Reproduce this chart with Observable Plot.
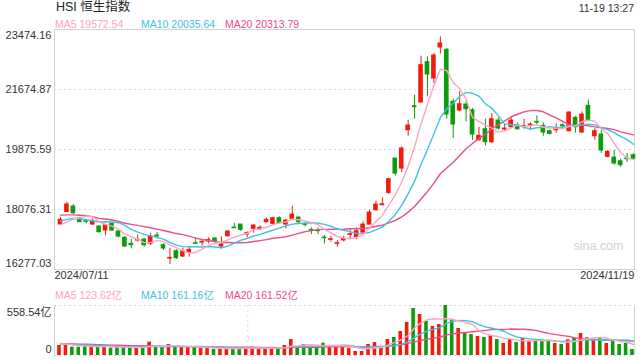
<!DOCTYPE html>
<html><head><meta charset="utf-8">
<script src="https://cdn.jsdelivr.net/npm/d3@7"></script>
<script src="https://cdn.jsdelivr.net/npm/@observablehq/plot@0.6"></script>
<style>
body{margin:0;background:#fff;}
#wrap{position:relative;width:640px;height:360px;overflow:hidden;font-family:Arial,"Liberation Sans","Noto Sans CJK SC",sans-serif;}
.t{position:absolute;white-space:nowrap;line-height:1;}
#main,#vol{position:absolute;left:0;}
#main{top:0;} #vol{top:290px;}
</style></head><body>
<div id="wrap"><div id="main"></div><div id="vol"></div></div>
<script>
// ---- data ----
const title = "HSI 恒生指数";
const stamp = "11-19 13:27";
const dateLabels = ["2024/07/11", "2024/11/19"];
const yTickLabels = ["16277.03", "18076.31", "19875.59", "21674.87", "23474.16"];
const volMaxLabel = "558.54亿";
const volMax = 558.54;
const maNames = ["MA5", "MA10", "MA20"];
const maPriceLegend = ["19572.54", "20035.64", "20313.79"];
const maVolLegend = ["123.62亿", "161.16亿", "161.52亿"];

const opens = [17626,17996,18166,17806,17726,17626,17566,17446,17646,17416,
17226,17046,17146,17176,17046,17296,17006,16606,16826,16666,
16786,17066,17086,17116,17206,16966,17276,17536,17626,17326,
17496,17486,17696,17646,17816,17626,17796,17836,17636,17466,
17446,17236,17166,17046,17150,
17314,17254,17384,17624,18054,
18204,18574,19604,19304,20454,
21174,21284,22494,22004,22934,
22864,21304,21044,21224,21054,
20154,20484,20094,20744,20474,
20544,20604,20554,20594,20704,
20584,20424,20454,20604,20424,
20824,20384,21184,20274,20324,
19654,19634,19524,19604,19704];
const closes = [17766,18226,17966,17696,17706,17726,17396,17606,17446,17266,
16966,17006,17166,17006,17266,17266,16906,16626,16616,16816,
16866,17046,17106,17166,17106,17026,17416,17516,17466,17366,
17596,17526,17766,17816,17666,17746,17926,17696,17616,17436,
17426,17216,17186,17066,17190,
17334,17424,17624,17984,18224,
18234,18984,19154,19904,20594,
21144,22404,22124,22694,23054,
20924,20624,21234,21084,20324,
20284,20094,20784,20504,20504,
20744,20484,20574,20624,20684,
20384,20344,20514,20574,20984,
20544,20924,20754,20424,19844,
19804,19454,19404,19584,19604];
const highs = [17836,18286,18216,17846,17776,17796,17596,17626,17676,17446,
17266,17186,17316,17196,17366,17386,17046,16916,16876,16916,
16966,17226,17176,17226,17226,17256,17446,17666,17626,17406,
17616,17586,17816,17846,17856,17766,18176,17846,17676,17526,
17526,17296,17266,17146,17280,
17504,17524,17704,18054,18324,
18424,19004,19604,19954,20754,
21504,22674,22654,22754,23254,
22904,21384,21604,21304,21104,
20544,20784,20954,20824,20654,
20844,20674,20784,20674,20884,
20674,20454,20644,20644,21004,
20864,21004,21364,20504,20454,
19844,19844,19584,19754,19744];
const lows = [17606,17986,17926,17696,17646,17596,17366,17286,17416,17226,
16936,16896,17096,16946,16996,17196,16846,16426,16576,16636,
16646,17046,16976,17046,17046,16896,17246,17516,17416,17226,
17366,17446,17666,17606,17646,17496,17746,17646,17546,17326,
17326,17046,17096,16946,17100,
17204,17174,17364,17604,18024,
18204,18524,19084,19184,20274,
20784,21284,21454,21854,22734,
20784,20204,21004,20704,20154,
20124,19974,20054,20454,20424,
20504,20454,20484,20444,20584,
20274,20304,20364,20504,20404,
20364,20364,20704,20154,19764,
19624,19404,19344,19484,19564];
// volume, 亿
const vols = [112,123,93,93,104,93,112,93,82,93,
93,93,89,93,149,93,93,123,93,93,
93,93,82,82,67,82,78,82,82,82,
93,82,82,82,82,112,179,93,123,93,
93,137,112,112,93,
78,45,45,123,145,
100,179,201,268,369,
525,458,380,324,346,
558.54,391,302,246,235,
212,201,223,179,134,
179,145,190,160,168,
156,168,134,123,175,
193,246,198,175,193,
134,156,123,134,67];
// sessions before the window (only needed so the moving averages start at the left edge)
const priorCloses = [18112,17941,17936,17915,18430,18335,18028,18027,18072,18089,17716,17718,17769,17978,18028,17799,17524,17523,17471];
const priorVols = [130,140,125,120,135,150,160,130,125,120,140,130,120,115,125,130,135,140,125];

// ---- styles ----
const RED = "#f01c0e", GREEN = "#0b9d0b";
const MA_COLORS = ["#ffa3c3", "#3ec3e2", "#ee4c85"];
const TXT = "#333";

const n = closes.length;
const xDomain = [-0.93, n - 1 + 0.155];

function movingAvg(series, prior, k) {
  const all = prior.concat(series);
  return series.map((_, i) => d3.mean(all.slice(prior.length + i - k + 1, prior.length + i + 1)));
}
const periods = [5, 10, 20];
const candles = d3.range(n).map(i => ({
  i, open: opens[i], close: closes[i], high: highs[i], low: lows[i], vol: vols[i],
  color: closes[i] >= opens[i] ? RED : GREEN
}));
const priceMA = periods.map(k => movingAvg(closes, priorCloses, k));
const volMA = periods.map(k => movingAvg(vols, priorVols, k));

const yTicks = yTickLabels.map(Number);

const main = Plot.plot({
  width: 640, height: 290,
  marginTop: 29, marginBottom: 21, marginLeft: 54, marginRight: 6,
  x: {type: "linear", domain: xDomain, axis: null},
  y: {domain: [yTicks[0], yTicks[4]], axis: null},
  color: {type: "identity"},
  style: {fontFamily: 'Arial,"Liberation Sans",sans-serif', background: "transparent"},
  marks: [
    Plot.frame({stroke: "#d2d2d2"}),
    Plot.ruleY(yTicks.slice(1, 4), {stroke: "#d8d8d8", strokeDasharray: "2,3"}),
    Plot.text(["sina.com"], {text: d => d, frameAnchor: "bottom-right", textAnchor: "end", dx: -11, dy: -20, fill: "#d0d0d0", fontSize: 12.5}),
    Plot.ruleX(candles, {x: "i", y1: "low", y2: "high", stroke: "color", strokeWidth: 1}),
    Plot.rect(candles, {x1: d => d.i - 0.36, x2: d => d.i + 0.36, y1: "open", y2: "close", fill: "color", insetTop: -0.5, insetBottom: -0.5}),
    ...[2, 1, 0].map(j => Plot.line(candles, {x: "i", y: d => priceMA[j][d.i], stroke: MA_COLORS[j], strokeWidth: 1.4})),
    Plot.text(yTicks.slice(1, 4), {y: d => d, text: (d, k) => yTickLabels[k + 1], frameAnchor: "left", textAnchor: "end", dx: -3, fill: TXT, fontSize: 11}),
    Plot.text([yTicks[4]], {y: d => d, text: () => yTickLabels[4], frameAnchor: "left", textAnchor: "end", dx: -3, dy: 6, fill: TXT, fontSize: 11}),
    Plot.text([yTicks[0]], {y: d => d, text: () => yTickLabels[0], frameAnchor: "left", textAnchor: "end", dx: -3, dy: -6, fill: TXT, fontSize: 11}),
    Plot.text([dateLabels[0]], {text: d => d, frameAnchor: "bottom-left", textAnchor: "start", dy: 9, fill: TXT, fontSize: 11}),
    Plot.text([dateLabels[1]], {text: d => d, frameAnchor: "bottom-right", textAnchor: "end", dy: 9, fill: TXT, fontSize: 11})
  ]
});
document.getElementById("main").appendChild(main);

const span = xDomain[1] - xDomain[0];
const vol = Plot.plot({
  width: 640, height: 70,
  marginTop: 15, marginBottom: 5, marginLeft: 54, marginRight: 6,
  x: {type: "linear", domain: xDomain, axis: null},
  y: {domain: [0, volMax], axis: null},
  color: {type: "identity"},
  style: {fontFamily: 'Arial,"Liberation Sans","Noto Sans CJK SC",sans-serif', background: "transparent"},
  marks: [
    Plot.ruleY([0, volMax], {stroke: "#d8d8d8", strokeDasharray: "2,3"}),
    Plot.ruleX([xDomain[0] + span / 3, xDomain[0] + 2 * span / 3], {stroke: "#d8d8d8", strokeDasharray: "2,3"}),
    Plot.ruleX(xDomain, {stroke: "#d2d2d2"}),
    Plot.ruleX(candles, {x: "i", y1: 0, y2: "vol", stroke: "color", strokeWidth: 3.6, dx: -1.5}),
    ...[2, 1, 0].map(j => Plot.line(candles, {x: "i", y: d => volMA[j][d.i], stroke: MA_COLORS[j], strokeWidth: 1.4})),
    Plot.text([volMax], {y: d => d, text: () => volMaxLabel, frameAnchor: "left", textAnchor: "end", dx: -3, dy: 7, fill: TXT, fontSize: 11}),
    Plot.text([0], {y: d => d, text: () => "0", frameAnchor: "left", textAnchor: "end", dx: -3, dy: -6.5, fill: TXT, fontSize: 11})
  ]
});
document.getElementById("vol").appendChild(vol);

// ---- title, stamp and MA legends ----
const wrap = document.getElementById("wrap");
function addText(txt, css) {
  const d = document.createElement("div");
  d.className = "t";
  d.textContent = txt;
  Object.assign(d.style, css);
  wrap.appendChild(d);
}
addText(title, {left: "56px", top: "1px", fontSize: "12.5px", color: "#222"});
addText(stamp, {right: "6px", top: "3px", fontSize: "10.5px", color: TXT});
const legendLeft = [55, 141, 225];
maNames.forEach((nm, j) => {
  addText(nm + " " + maPriceLegend[j], {left: legendLeft[j] + "px", top: "19px", fontSize: "10.5px", color: MA_COLORS[j]});
  addText(nm + " " + maVolLegend[j], {left: legendLeft[j] + "px", top: "290px", fontSize: "10.5px", color: MA_COLORS[j]});
});
</script>
</body></html>
